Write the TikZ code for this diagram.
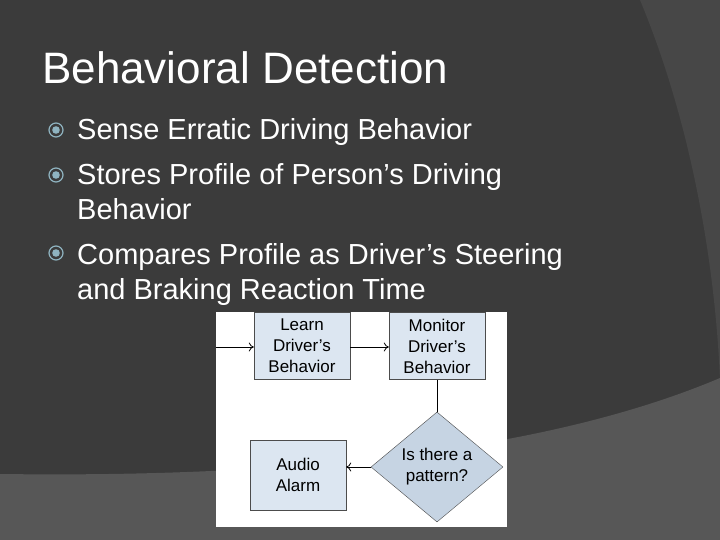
\documentclass[tikz,border=0pt]{standalone}
\usepackage{fontspec}
\setmainfont{Liberation Sans}
\usetikzlibrary{shapes.geometric,arrows.meta}
\definecolor{bgd}{HTML}{3B3B3B}
\definecolor{bgm}{HTML}{474747}
\definecolor{bgl}{HTML}{575757}
\definecolor{bfill}{HTML}{DCE6F1}
\definecolor{dfill}{HTML}{C6D4E3}
\definecolor{bul}{HTML}{8FB3C0}
\tikzset{
 fbox/.style={draw=black!70,fill=bfill,minimum width=96pt,minimum height=67pt,align=center,font=\fontsize{17}{21}\selectfont,inner sep=0pt},
 conn/.style={draw=black,line width=0.8pt,-{To[length=5pt,width=9pt]}},
 btxt/.style={anchor=base west,text=white,font=\fontsize{29}{30}\selectfont,inner sep=0pt},
}
\begin{document}
\begin{tikzpicture}[x=1pt,y=-1pt]
\fill[bgd] (0,0) rectangle (720,540);
\useasboundingbox (0,0) rectangle (720,540);
\fill[bgm] (640,0) .. controls (690,120) and (715,260) .. (720,380) -- (720,0) -- cycle;
\fill[bgl] (0,474) .. controls (300,478) and (550,450) .. (720,378) -- (720,540) -- (0,540) -- cycle;
\node[anchor=base west,text=white,font=\fontsize{44}{50}\selectfont,inner sep=0pt] (title) at (42,84) {Behavioral Detection};
\foreach \y/\n in {130/b1,175/b2,253/b3}{
  \node[circle,draw=bul,line width=1.2pt,minimum size=14pt,inner sep=0pt] (\n) at (56,\y) {};
  \fill[bul] (56,\y) circle (3.8pt);
}
\node[btxt] (t1) at (77,140) {Sense Erratic Driving Behavior};
\node[btxt] (t2) at (77,185) {Stores Profile of Person’s Driving};
\node[btxt] (t3) at (77,220) {Behavior};
\node[btxt] (t4) at (77,264) {Compares Profile as Driver’s Steering};
\node[btxt] (t5) at (77,299) {and Braking Reaction Time};
\fill[white] (216,312) rectangle (507,527);
\begin{scope}
\clip (216,312) rectangle (507,527);
\node[fbox] (learn) at (302,346) {Learn\\Driver’s\\Behavior};
\node[fbox] (mon) at (437,346) {Monitor\\Driver’s\\Behavior};
\node[draw=black!70,fill=dfill,diamond,minimum width=132pt,minimum height=110pt,inner sep=0pt,align=center,font=\fontsize{17}{21}\selectfont] (dia) at (437,467) {Is there a\\pattern?};
\node[fbox,minimum height=70pt] (alarm) at (298,475) {Audio\\Alarm};
\coordinate (in) at (216,347);
\draw[conn] (in) -- (learn.west |- in);
\draw[conn] (learn.east |- in) -- (mon.west |- in);
\draw[black,line width=0.8pt] (mon.south) -- (dia.north);
\draw[conn] (dia.west) -- (alarm.east |- dia.west);
\end{scope}
\end{tikzpicture}
\end{document}
